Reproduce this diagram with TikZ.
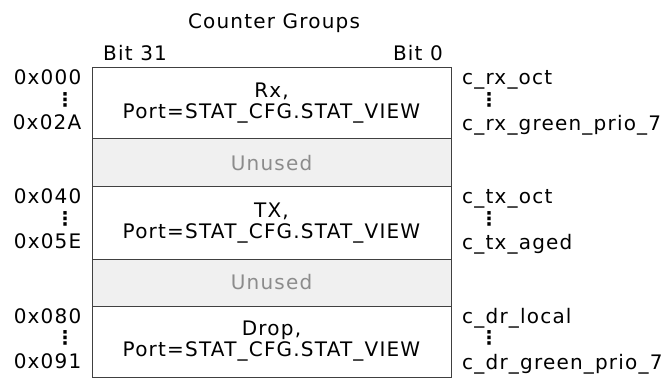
\documentclass[tikz,border=0pt]{standalone}
\usepackage{fontspec}
\setmainfont[LetterSpace=6]{DejaVu Sans}
\usetikzlibrary{positioning}
\tikzset{
  grp/.style={draw=black!75,line width=1pt,fill=white,minimum width=359pt,
    outer sep=0pt,align=center},
  unused/.style={grp,fill=black!6,text=black!45},
  addr/.style={anchor=base east},
  cnt/.style={anchor=base west},
  vdot/.style={font=\fontsize{19}{20}\selectfont\bfseries}
}

\begin{document}
\begin{tikzpicture}[x=1pt,y=-1pt,
  every node/.style={font=\fontsize{20}{21}\selectfont,inner sep=0pt}]
\useasboundingbox (0,0) rectangle (666,379);

\node[anchor=base] (title) at (274,29) {Counter Groups};
\node[anchor=base west] (msb) at (103,61) {Bit 31};
\node[anchor=base east] (lsb) at (443,61) {Bit 0};

% the counter groups, top to bottom
\node[grp,minimum height=71pt] (rx) at (271.5,103.5) {Rx,\\Port=STAT\_CFG.STAT\_VIEW};
\node[unused,minimum height=48pt,below=0pt of rx] (gapa) {Unused};
\node[grp,minimum height=72pt,below=0pt of gapa] (tx) {TX,\\Port=STAT\_CFG.STAT\_VIEW};
\node[unused,minimum height=47pt,below=0pt of tx] (gapb) {Unused};
\node[grp,minimum height=71pt,below=0pt of gapb] (dr) {Drop,\\Port=STAT\_CFG.STAT\_VIEW};

% addresses
\node[addr] (rxfirst) at (81.5,85) {0x000};
\node[vdot] (rxdots) at (65,100) {⋮};
\node[addr] (rxlast) at (81.5,130) {0x02A};
\node[addr] (txfirst) at (81.5,204) {0x040};
\node[vdot] (txdots) at (65,219) {⋮};
\node[addr] (txlast) at (81.5,249) {0x05E};
\node[addr] (drfirst) at (81.5,323) {0x080};
\node[vdot] (drdots) at (65,338) {⋮};
\node[addr] (drlast) at (81.5,368) {0x091};

% counter names
\node[cnt] (rxoct) at (462,85) {c\_rx\_oct};
\node[vdot] (rxcdots) at (489,100) {⋮};
\node[cnt] (rxprio) at (462,131) {c\_rx\_green\_prio\_7};
\node[cnt] (txoct) at (462,204) {c\_tx\_oct};
\node[vdot] (txcdots) at (489,219) {⋮};
\node[cnt] (txaged) at (462,250) {c\_tx\_aged};
\node[cnt] (drlocal) at (462,323) {c\_dr\_local};
\node[vdot] (drcdots) at (489,338) {⋮};
\node[cnt] (drprio) at (462,369) {c\_dr\_green\_prio\_7};
\end{tikzpicture}
\end{document}
